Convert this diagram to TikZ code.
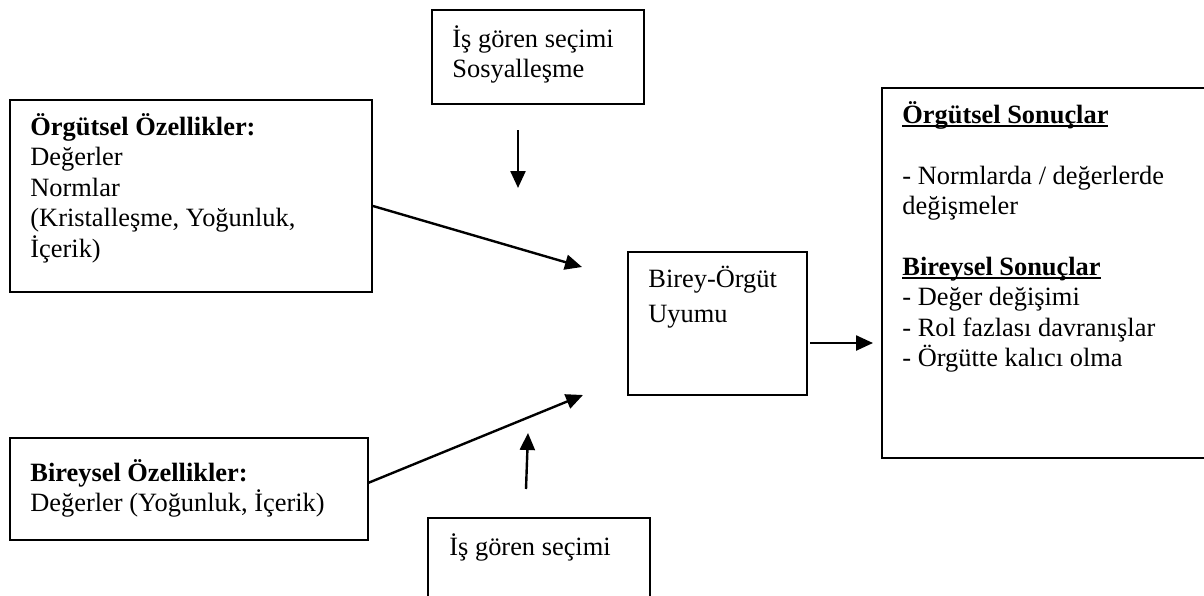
\documentclass[tikz,border=0pt]{standalone}
\usepackage{fontspec}
\setmainfont{Liberation Serif}
\usetikzlibrary{arrows.meta,fit}
\newcommand{\fs}{\rule{0pt}{12pt}}
\newcommand{\myul}[1]{{\setbox0\hbox{#1}\rlap{\rule[-1.6pt]{\wd0}{0.9pt}}\box0}}
\begin{document}
\begin{tikzpicture}[x=0.5pt,y=-0.5pt,
  box/.style={draw,line width=0.9pt,inner sep=0pt},
  txt/.style={anchor=north west,inner sep=0pt,align=left,font=\fontsize{13.2}{15.2}\selectfont},
  arr/.style={line width=1.2pt,-{Triangle[length=8.5pt,width=7.5pt]}}]
\useasboundingbox (0,0) rectangle (1204,595);
\clip (0,0) rectangle (1204,595);
% boxes
\node[box,fit={(10,100) (372,292)}] (b1) {};
\node[box,fit={(10,438) (368,540)}] (b2) {};
\node[box,fit={(432,10) (644,104)}] (top) {};
\node[box,fit={(428,518) (650,598)}] (bot) {};
\node[box,fit={(628,252) (807,395)}] (mid) {};
\node[box,fit={(882,88) (1212,458)}] (res) {};
% texts
\node[txt] (t1) at (30,111) {\fs\textbf{Örgütsel Özellikler:}\\Değerler\\Normlar\\(Kristalleşme, Yoğunluk,\\İçerik)};
\node[txt] (t2) at (30,457) {\fs\textbf{Bireysel Özellikler:}\\Değerler (Yoğunluk, İçerik)};
\node[txt] (t3) at (452,23) {\fs İş gören seçimi\\Sosyalleşme};
\node[txt] (t4) at (449,531) {\fs İş gören seçimi};
\node[txt,font=\fontsize{13.2}{17.5}\selectfont] (t5) at (648,263) {\fs Birey-Örgüt\\Uyumu};
\node[txt] (t6) at (902,99) {\fs\myul{\textbf{Örgütsel Sonuçlar}}\\[15.2pt]- Normlarda / değerlerde\\değişmeler\\[15.2pt]\myul{\textbf{Bireysel Sonuçlar}}\\- Değer değişimi\\- Rol fazlası davranışlar\\- Örgütte kalıcı olma};
% arrow end points
\coordinate (d1) at (518,130);
\coordinate (d2) at (518,188);
\coordinate (u1) at (526,489);
\coordinate (u2) at (528,433);
\coordinate (a1) at (373,206);
\coordinate (a2) at (582,267);
\coordinate (c1) at (368,483);
\coordinate (c2) at (583,395);
\coordinate (r1) at (810,343);
\coordinate (r2) at (873,343);
\draw[arr] (d1) -- (d2);
\draw[arr] (u1) -- (u2);
\draw[arr] (a1) -- (a2);
\draw[arr] (c1) -- (c2);
\draw[arr] (r1) -- (r2);
\end{tikzpicture}
\end{document}
